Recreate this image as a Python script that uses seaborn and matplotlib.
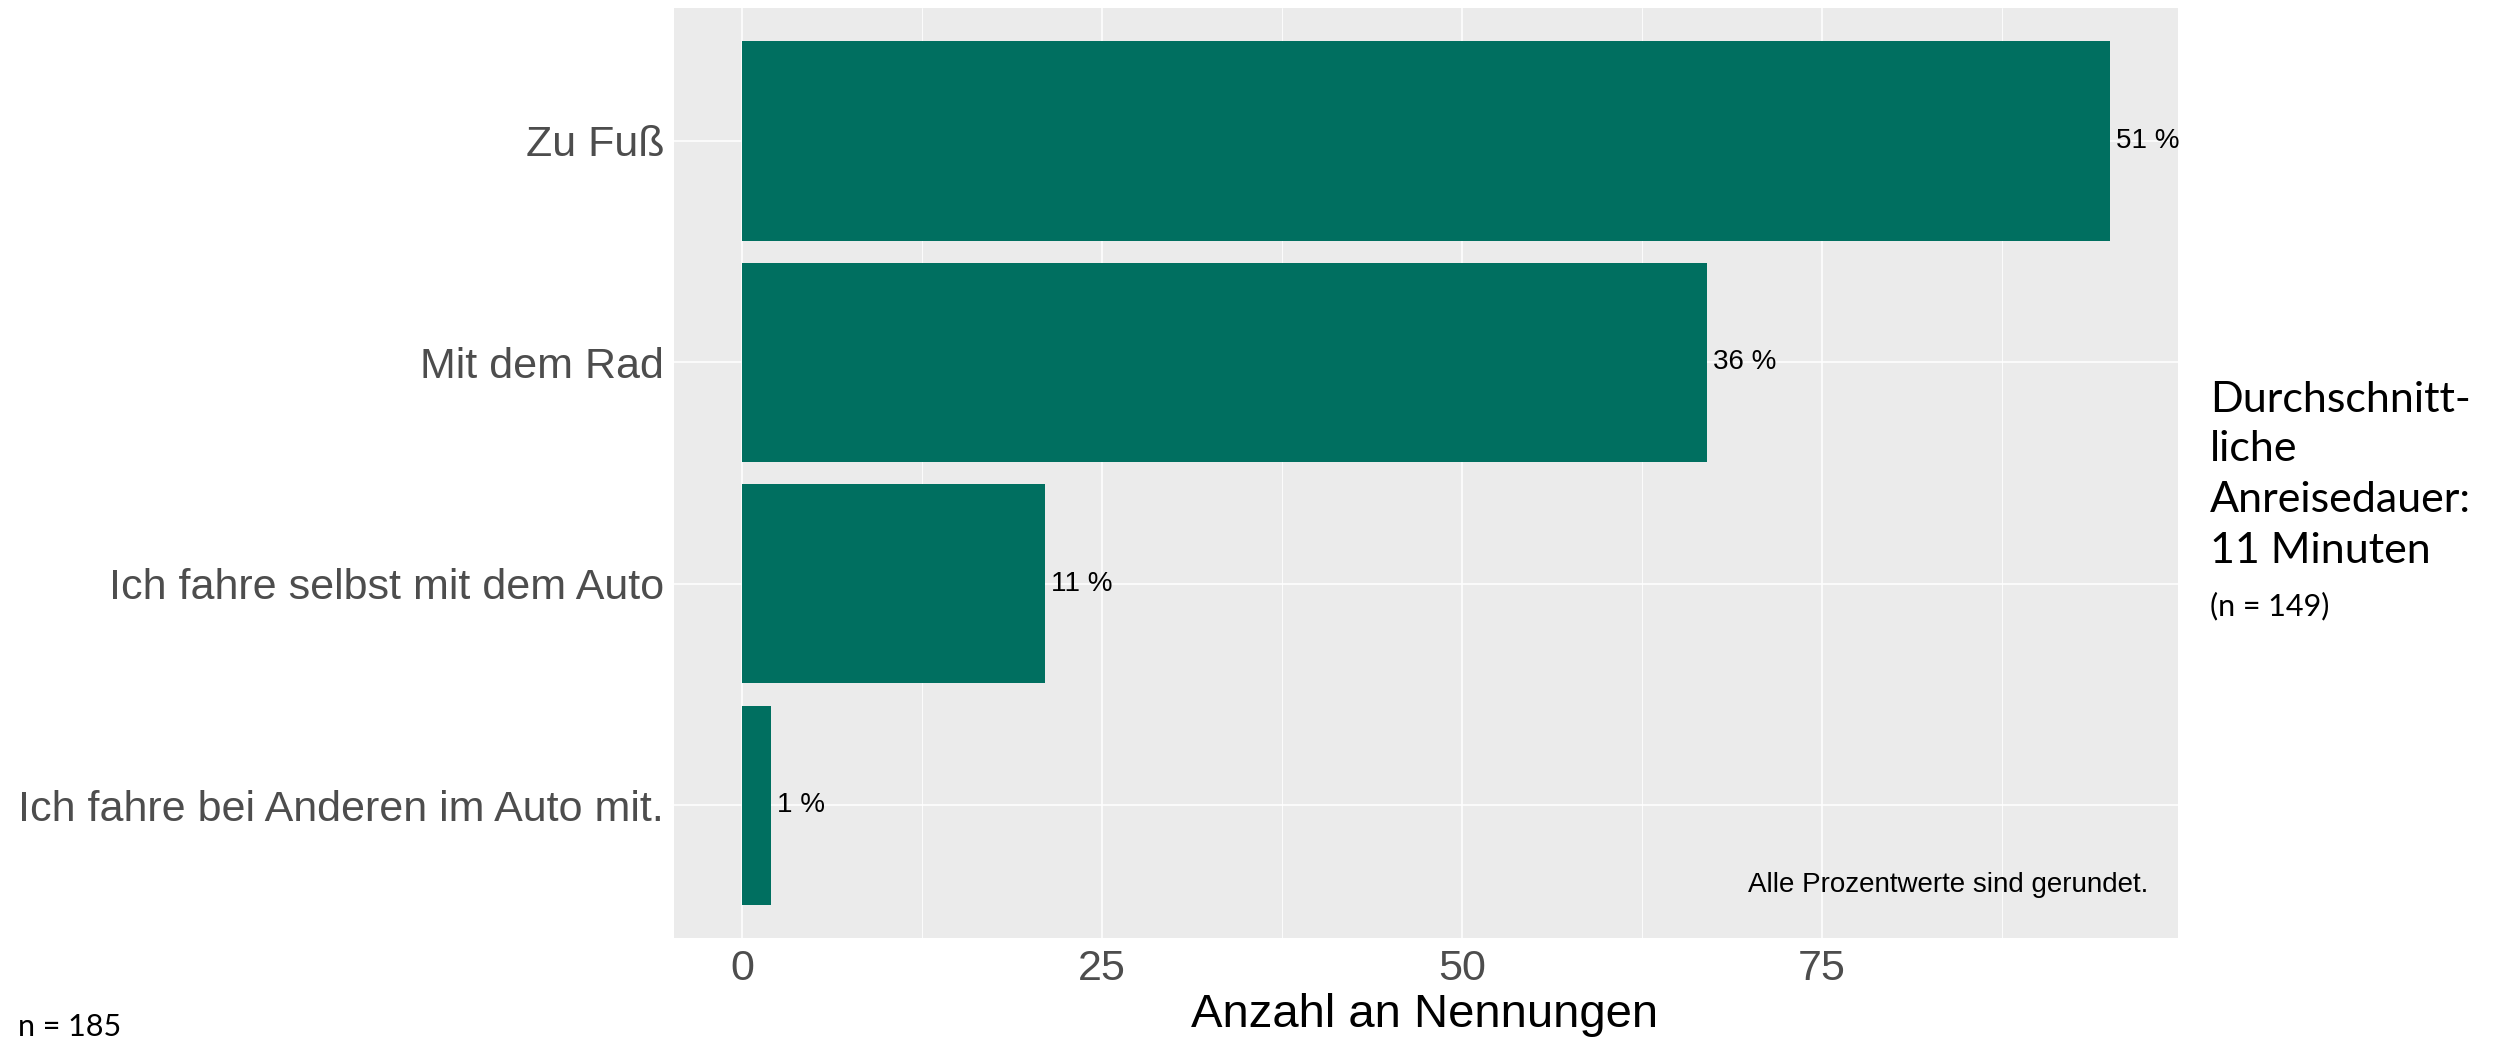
import matplotlib
matplotlib.use("Agg")
import matplotlib.pyplot as plt
import numpy as np
import pandas as pd
import seaborn as sns

# Daten
kategorien = ['Zu Fuß', 'Mit dem Rad', 'Ich fahre selbst mit dem Auto',
              'Ich fahre bei Anderen im Auto mit.']
anzahl = [95, 67, 21, 2]
prozent_labels = ['51 %', '36 %', '11 %', '1 %']
x_ticks = [0, 25, 50, 75]
x_minor = [12.5, 37.5, 62.5, 87.5]

df = pd.DataFrame({'Kategorie': kategorien, 'Anzahl': anzahl})

sns.set_style('white')
plt.rcParams['font.family'] = ['Liberation Sans', 'DejaVu Sans']

fig = plt.figure(figsize=(25.01, 10.39), dpi=100)
ax = fig.add_axes([0.2695, 0.0972, 0.6014, 0.8951])
ax.set_facecolor('#EBEBEB')

sns.barplot(data=df, x='Anzahl', y='Kategorie', orient='h', color='#006F60',
            saturation=1, width=0.9, linewidth=0, ax=ax, zorder=3)

# Prozentwerte neben den Balken
ax.bar_label(ax.containers[0], labels=prozent_labels, padding=4.3,
             fontsize=20, color='black')

ax.set_xlim(-4.75, 99.75)
ax.set_ylim(3.6, -0.6)
ax.set_xticks(x_ticks)
ax.set_xticks(x_minor, minor=True)

# Gitter wie ggplot
ax.grid(which='major', axis='both', color='white', linewidth=1.1, zorder=0)
ax.grid(which='minor', axis='x', color='white', linewidth=0.6, zorder=0)
ax.set_axisbelow(True)

for s in ax.spines.values():
    s.set_visible(False)

ax.tick_params(axis='y', which='major', length=3.6, width=1, color='#333333',
               pad=3.6, labelsize=31, labelcolor='#4D4D4D')
ax.tick_params(axis='x', which='major', length=3.6, width=1, color='#333333',
               pad=4.5, labelsize=31, labelcolor='#4D4D4D')
ax.tick_params(axis='x', which='minor', length=0)
ax.set_xlabel('')
ax.set_ylabel('')

ax.text(0.980, 0.057, 'Alle Prozentwerte sind gerundet.', transform=ax.transAxes,
        ha='right', va='center', fontsize=20, color='black')

fig.text(0.5697, 1 - 1027 / 1039, 'Anzahl an Nennungen', ha='center',
         va='baseline', fontsize=34, color='black')

# Text rechts
rechts = ['Durchschnitt-', 'liche', 'Anreisedauer:', '11 Minuten']
baselines = [412, 461, 512, 563]
for zeile, yb in zip(rechts, baselines):
    fig.text(2210 / 2501, 1 - yb / 1039, zeile, ha='left', va='baseline',
             fontsize=31, color='black', family=['Lato', 'DejaVu Sans'])
fig.text(2210 / 2501, 1 - 615 / 1039, '(n = 149)', ha='left', va='baseline',
         fontsize=22, color='black', family=['Lato', 'DejaVu Sans'])

fig.text(18 / 2501, 1 - 1036 / 1039, 'n = 185', ha='left', va='baseline',
         fontsize=22, color='black', family=['Lato', 'DejaVu Sans'])

fig.savefig('out.png', dpi=100)
